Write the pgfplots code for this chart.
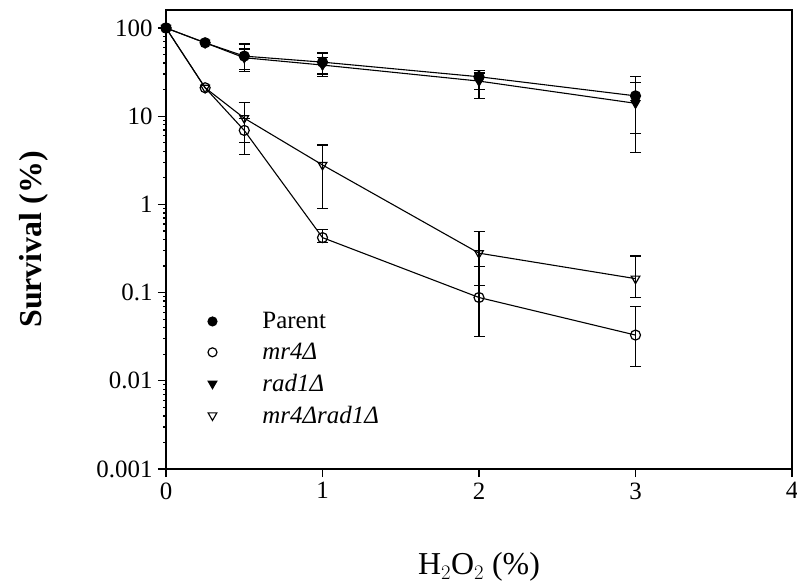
\documentclass[border=0pt]{standalone}
\usepackage{pgfplots}
\pgfplotsset{compat=1.18}
\usepackage{fontspec}
\setmainfont{Liberation Serif}

\begin{document}
\begin{tikzpicture}[x=1bp,y=1bp]
\useasboundingbox (-166,-117) rectangle (631,469);
\begin{axis}[
  at={(0,0)}, anchor=south west,
  scale only axis, width=626bp, height=459bp,
  xmin=0, xmax=4, ymode=log, ymin=0.001, ymax=160,
  xtick={0,1,2,3,4},
  ytick={0.001,0.01,0.1,1,10,100},
  yticklabels={0.001,0.01,0.1,1,10,100},
  /pgf/number format/assume math mode=true,
  tick label style={font=\fontsize{25}{27}\selectfont},
  tick align=outside, xtick pos=bottom, ytick pos=left,
  major tick length=8bp, minor tick num=0,
  axis line style={line width=1.5bp},
  every tick/.style={black, line width=1.3bp},
  xticklabel style={yshift=-2bp},
  yticklabel style={xshift=-2bp},
  xlabel={H$_2$O$_2$ (\%)},
  ylabel={\textbf{Survival (\%)}},
  every axis x label/.style={at={(axis description cs:0.5,0)}, anchor=center,
    yshift=-98bp, font=\fontsize{32}{34}\selectfont},
  every axis y label/.style={at={(axis description cs:0,0.5)}, anchor=center,
    rotate=90, yshift=132bp, font=\fontsize{32}{34}\selectfont},
  legend style={at={(rel axis cs:0.05,0.35)}, anchor=north west, draw=none, fill=none,
    font=\fontsize{25}{27}\selectfont, row sep=9bp,
    nodes={anchor=west, inner sep=2bp}},
  legend cell align=left,
  legend image code/.code={%
    \draw[#1, only marks] plot coordinates {(12bp,0bp)};
    \path[draw=none, fill=none] (0bp,0bp) -- (60bp,0bp);},
  every axis plot/.append style={line width=1.1bp, mark size=5bp,
    error bars/error bar style={line width=1.3bp},
    error bars/error mark options={black, rotate=90, mark size=5.5bp, line width=1.3bp}},
]

% Parent
\addplot[black, mark=*, mark options={solid, fill=black, line width=1.2bp}, forget plot,
  error bars/.cd, y dir=both, y explicit]
  coordinates {
    (0,100)
    (0.25,68)
    (0.5,48)  += (0,18)  -= (0,16)
    (1,41)    += (0,11)  -= (0,11)
    (2,28)    += (0,5)   -= (0,8)
    (3,17)    += (0,11)  -= (0,10.6)
  };

% rad1
\addplot[black, mark=triangle*, mark options={solid, rotate=180, fill=black, line width=1.2bp}, forget plot,
  error bars/.cd, y dir=both, y explicit]
  coordinates {
    (0,100)
    (0.25,68)
    (0.5,46)  += (0,12)  -= (0,12)
    (1,38)    += (0,8)   -= (0,10)
    (2,25)    += (0,6)   -= (0,9)
    (3,14)    += (0,10)  -= (0,10.1)
  };

% mr4
\addplot[black, mark=o, mark options={solid, fill=white, line width=1.2bp}, forget plot,
  error bars/.cd, y dir=both, y explicit]
  coordinates {
    (0,100)
    (0.25,21)
    (0.5,6.9)  += (0,2.6)   -= (0,3.2)
    (1,0.42)   += (0,0.1)   -= (0,0.05)
    (2,0.088)  += (0,0.11)  -= (0,0.056)
    (3,0.033)  += (0,0.037) -= (0,0.0185)
  };

% mr4 rad1
\addplot[black, mark=triangle, mark options={solid, rotate=180, fill=white, line width=1.2bp}, forget plot,
  error bars/.cd, y dir=both, y explicit]
  coordinates {
    (0,100)
    (0.25,21)
    (0.5,9.5)  += (0,4.9)   -= (0,4.5)
    (1,2.8)    += (0,1.9)   -= (0,1.9)
    (2,0.28)   += (0,0.21)  -= (0,0.16)
    (3,0.144)  += (0,0.116) -= (0,0.056)
  };

\addlegendimage{black, mark=*, mark size=4.5bp, mark options={fill=black}}
\addlegendentry{Parent}
\addlegendimage{black, mark=o, mark size=4.5bp, line width=1.2bp}
\addlegendentry{\textit{mr4Δ}}
\addlegendimage{black, mark=triangle*, mark size=5bp, mark options={rotate=180, fill=black}}
\addlegendentry{\textit{rad1Δ}}
\addlegendimage{black, mark=triangle, mark size=5bp, mark options={rotate=180}, line width=1.1bp}
\addlegendentry{\textit{mr4Δrad1Δ}}
\end{axis}
\end{tikzpicture}
\end{document}
